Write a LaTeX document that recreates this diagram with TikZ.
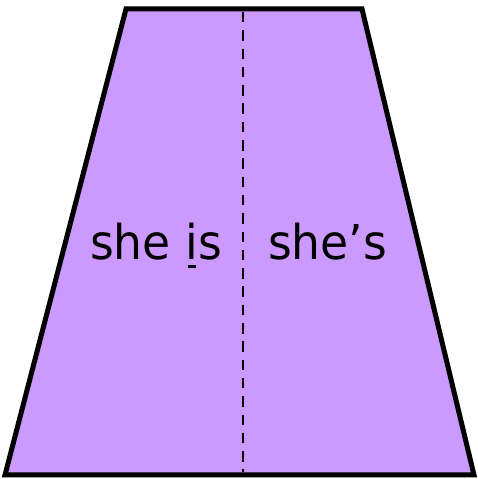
\documentclass[tikz,border=0pt]{standalone}
\usepackage{fontspec}
\setmainfont[FakeStretch=0.95]{DejaVu Sans}
\definecolor{lav}{HTML}{CC99FF}
\newcommand\myul[1]{\setbox0\hbox{#1}\rlap{\hskip\dimexpr(\wd0-8pt)/2\relax\rule[-8.5pt]{8pt}{2.5pt}}#1}
\begin{document}
\begin{tikzpicture}[x=1pt,y=1pt,
  trapez/.style={fill=lav,draw=black,line width=5pt,line join=miter},
  divider/.style={line width=2.4pt,dash pattern=on 10.5pt off 7.8pt},
  lbl/.style={font=\fontsize{48}{58}\selectfont,inner sep=0pt,anchor=base}]
\useasboundingbox (0,0) rectangle (478,479);
\coordinate (tl) at (126,470);
\coordinate (tr) at (362,470);
\coordinate (br) at (474,4);
\coordinate (bl) at (5,4);
\draw[trapez] (tl) -- (tr) -- (br) -- (bl) -- cycle;
\coordinate (dt) at (243,467);
\coordinate (db) at (243,7);
\draw[divider] (dt) -- (db);
\node[lbl] (a) at (156,219.5) {she \myul{i}s};
\node[lbl] (b) at (327.5,219.5) {she’s};
\end{tikzpicture}
\end{document}
